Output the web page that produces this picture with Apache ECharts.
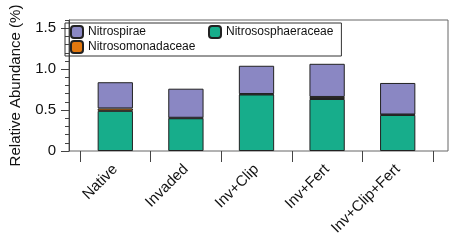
<!DOCTYPE html>
<html>
<head>
<meta charset="utf-8">
<script src="https://cdn.jsdelivr.net/npm/echarts@6/dist/echarts.min.js"></script>
<style>
html,body{margin:0;padding:0;background:#fff;}
#main{width:454px;height:242px;}
</style>
</head>
<body>
<div id="main"></div>
<script>
// 数据
var categories = ['Native', 'Invaded', 'Inv+Clip', 'Inv+Fert', 'Inv+Clip+Fert'];
var nitrososphaeraceae = [0.49, 0.40, 0.69, 0.635, 0.44];
var nitrosomonadaceae = [0.03, 0.006, 0.006, 0.025, 0.006];
var nitrospirae = [0.32, 0.355, 0.345, 0.405, 0.385];
var yTickLabels = [0, 0.5, 1.0, 1.5];

var font = 'Liberation Sans';
var axisColor = '#444';
var colors = {
    purple: '#8a87c3',
    orange: '#e2780f',
    green: '#17ad8b'
};

var myChart = echarts.init(document.getElementById('main'));

var option = {
    animation: false,
    textStyle: {fontFamily: font},
    grid: [
        // 外框
        {left: 62, right: 6, top: 20, bottom: 91, show: true, borderColor: '#666', borderWidth: 1},
        // 柱子
        {left: 80, right: 21, top: 20, bottom: 91}
    ],
    xAxis: [
        {gridIndex: 0, type: 'value', min: 0, max: 1, show: false},
        {
            gridIndex: 1, type: 'category', data: categories,
            axisLine: {show: false},
            axisTick: {show: true, length: 11, lineStyle: {color: axisColor}},
            axisLabel: {rotate: 45, margin: 16, fontSize: 15, color: '#111', fontFamily: font}
        }
    ],
    yAxis: [
        {
            gridIndex: 0, type: 'value', min: 0, max: 1.6, interval: 0.1,
            name: 'Relative Abundance (%)', nameLocation: 'middle', nameGap: 46,
            nameTextStyle: {fontSize: 15, color: '#111', fontFamily: font},
            axisLine: {show: true, lineStyle: {color: axisColor}},
            axisTick: {show: true, length: 4, lineStyle: {color: axisColor}},
            axisLabel: {
                customValues: yTickLabels, margin: 13, fontSize: 15, color: '#111', fontFamily: font,
                formatter: function (v) { return v === 0 ? '0' : v.toFixed(1); }
            },
            splitLine: {show: false}
        },
        {
            gridIndex: 0, type: 'value', min: 0, max: 1.6, position: 'left', offset: 0,
            axisLine: {show: false},
            axisTick: {show: true, length: 8, customValues: yTickLabels, lineStyle: {color: axisColor}},
            axisLabel: {show: false},
            splitLine: {show: false}
        },
        {gridIndex: 1, type: 'value', min: 0, max: 1.6, show: false}
    ],
    legend: [
        {
            left: 65, top: 23, orient: 'vertical',
            data: ['Nitrospirae', 'Nitrosomonadaceae'],
            itemWidth: 12, itemHeight: 12, itemGap: 1,
            icon: 'roundRect',
            borderColor: '#333', borderWidth: 1, borderRadius: 0,
            padding: [2, 146, 2, 5],
            textStyle: {fontSize: 12, color: '#111', fontFamily: font}
        },
        {
            left: 208, top: 25, orient: 'vertical',
            data: ['Nitrososphaeraceae'],
            itemWidth: 12, itemHeight: 12,
            icon: 'roundRect',
            padding: 0,
            textStyle: {fontSize: 12, color: '#111', fontFamily: font}
        }
    ],
    series: [
        {
            name: 'Nitrososphaeraceae', type: 'bar', stack: 'all',
            xAxisIndex: 1, yAxisIndex: 2, barWidth: '50%',
            itemStyle: {color: colors.green, borderColor: '#222', borderWidth: 1},
            data: nitrososphaeraceae
        },
        {
            name: 'Nitrosomonadaceae', type: 'bar', stack: 'all',
            xAxisIndex: 1, yAxisIndex: 2, barWidth: '50%',
            itemStyle: {color: colors.orange, borderColor: '#222', borderWidth: 1},
            data: nitrosomonadaceae
        },
        {
            name: 'Nitrospirae', type: 'bar', stack: 'all',
            xAxisIndex: 1, yAxisIndex: 2, barWidth: '50%',
            itemStyle: {color: colors.purple, borderColor: '#222', borderWidth: 1},
            data: nitrospirae
        }
    ]
};

myChart.setOption(option);
</script>
</body>
</html>
